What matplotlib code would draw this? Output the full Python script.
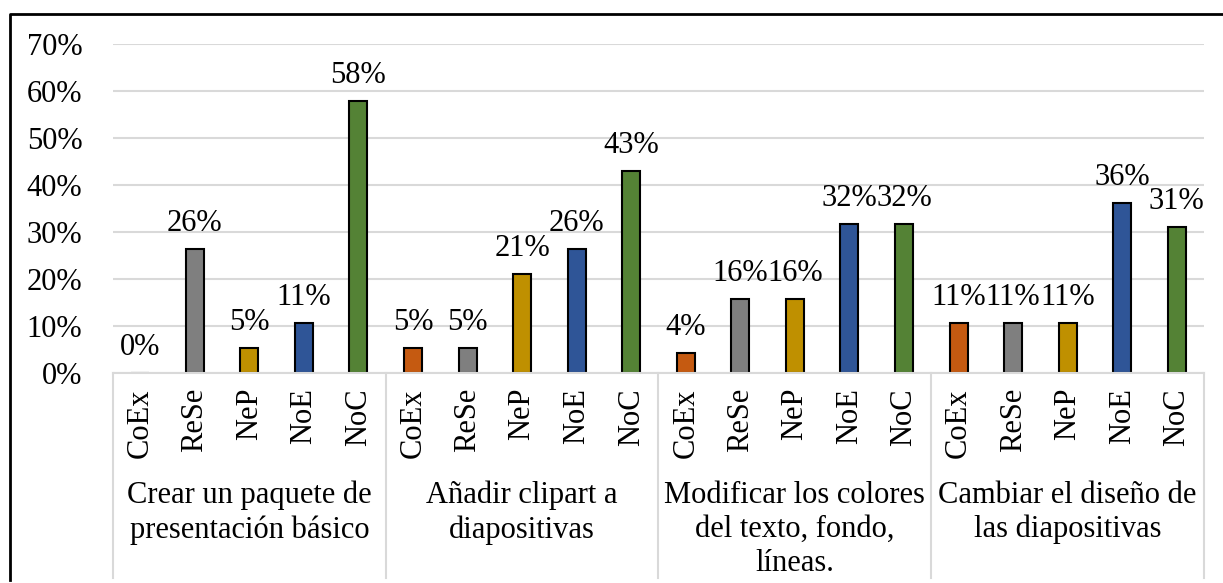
import matplotlib.pyplot as plt
from matplotlib.lines import Line2D

# data
groups = ["Crear un paquete de\npresentación básico",
          "Añadir clipart a\ndiapositivas",
          "Modificar los colores\ndel texto, fondo,\nlíneas.",
          "Cambiar el diseño de\nlas diapositivas"]
series = ["CoEx", "ReSe", "NeP", "NoE", "NoC"]
crear = [0, 26.3, 5.3, 10.6, 57.9]
anadir = [5.3, 5.3, 21.1, 26.3, 43.0]
modificar = [4.2, 15.8, 15.8, 31.6, 31.6]
cambiar = [10.6, 10.6, 10.6, 36.1, 31.0]
yticks = [0, 10, 20, 30, 40, 50, 60, 70]

colors = ["#C55A11", "#7F7F7F", "#BF9000", "#2F5597", "#548235"]

plt.rcParams['font.family'] = ['Liberation Serif', 'DejaVu Serif']
FS = 22

W, H = 1223, 583
fig = plt.figure(figsize=(W / 100, H / 100), dpi=100)

x0, x1 = 113, 1204
y0, y1 = 373, 44
ax = fig.add_axes([x0 / W, 1 - y0 / H, (x1 - x0) / W, (y0 - y1) / H])

all_vals = [crear, anadir, modificar, cambiar]
for g, vals in enumerate(all_vals):
    for j, v in enumerate(vals):
        xp = g * len(series) + j
        ax.bar(xp, v, width=0.33, color=colors[j], edgecolor="black",
               linewidth=1.5, zorder=3)
        ax.annotate(f"{v:.0f}%", (xp, v), xytext=(0, 13), textcoords="offset points",
                    ha="center", va="baseline", fontsize=FS, zorder=4)

n = len(series) * len(groups)
ax.set_xlim(-0.5, n - 0.5)
ax.set_ylim(0, 70)
ax.set_yticks(yticks)
ax.set_yticklabels([f"{t}%" for t in yticks], fontsize=FS)
ax.yaxis.grid(True, color="#D9D9D9", linewidth=1.5, zorder=0)
ax.tick_params(axis="y", length=0, pad=22)
ax.set_xticks([])
for s in ax.spines.values():
    s.set_visible(False)

# category axis drawn in figure pixels
def fx(px):
    return px / W

def fy(py):
    return 1 - py / H

unit = (x1 - x0) / n
fig.add_artist(Line2D([fx(x0), fx(x1)], [fy(y0), fy(y0)], color="#D9D9D9", lw=1.5))
for g in range(len(groups) + 1):
    xb = x0 + g * len(series) * unit
    fig.add_artist(Line2D([fx(xb), fx(xb)], [fy(y0), fy(578)], color="#D9D9D9", lw=1.5))

for g, name in enumerate(groups):
    for j, s in enumerate(series):
        xc = x0 + (g * len(series) + j + 0.5) * unit
        fig.text(fx(xc), fy(388), s, rotation=90, ha="center", va="top", fontsize=FS)
    xc = x0 + (g + 0.5) * len(series) * unit
    fig.text(fx(xc), fy(481), name, ha="center", va="top", fontsize=FS,
             multialignment="center", linespacing=1.22)

# outer frame (left and top)
fig.add_artist(Line2D([fx(10), fx(10), fx(W)], [fy(580), fy(14), fy(14)],
                      color="black", lw=2))

fig.savefig("out.png", dpi=100)
